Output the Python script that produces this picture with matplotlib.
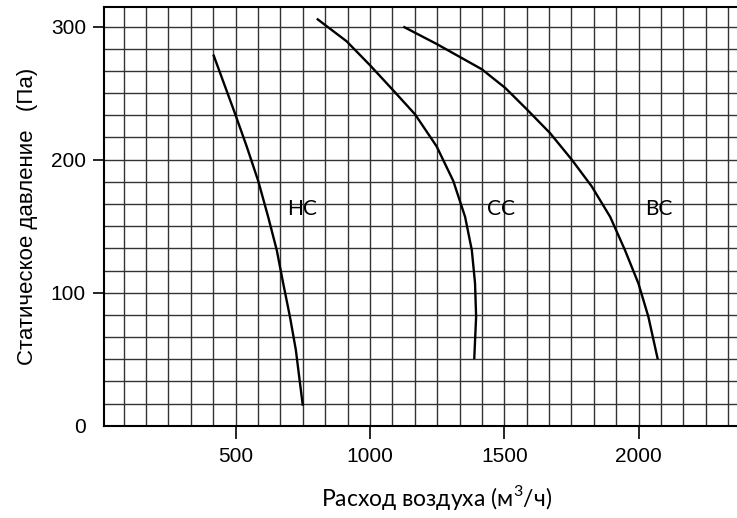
import numpy as np
import matplotlib
matplotlib.use("Agg")
import matplotlib.pyplot as plt

plt.rcParams["mathtext.fontset"] = "custom"
plt.rcParams["mathtext.rm"] = "Lato"

# flow (m3/h) vs static pressure (Pa)
hc_flow = [417, 497, 541, 584, 621, 653, 677, 702, 724, 750]
hc_pres = [279, 235, 210, 184, 157, 132, 107, 82, 57, 15]

cc_flow = [802, 913, 1000, 1087, 1168, 1248, 1310, 1354, 1379, 1391, 1395, 1388]
cc_pres = [306, 289, 271, 252, 234, 210, 184, 157, 132, 107, 82, 50]

bc_flow = [1124, 1248, 1416, 1503, 1583, 1670, 1751, 1825, 1894, 1949, 1999,
           2036, 2071]
bc_pres = [300, 287, 268, 254, 238, 220, 200, 180, 157, 132, 107, 82, 50]

labels = ["НС", "СС", "ВС"]
label_pos = [(749, 163), (1488, 163), (2076, 163)]

xticks = [500, 1000, 1500, 2000]
yticks = [0, 100, 200, 300]

fig = plt.figure(figsize=(7.37, 5.18), dpi=100)
ax = fig.add_axes([104 / 737, 92.3 / 518, 1 - 104 / 737, 419 / 518])

ax.set_xlim(10, 2366)
ax.set_ylim(0, 315)

# fine grid
for gx in np.arange(1, 29) * 500 / 6:
    ax.axvline(gx, color="#333333", lw=1.0, zorder=1)
for gy in np.arange(1, 19) * 100 / 6:
    ax.axhline(gy, color="#333333", lw=1.0, zorder=1)

for fx, py in [(hc_flow, hc_pres), (cc_flow, cc_pres), (bc_flow, bc_pres)]:
    ax.plot(fx, py, color="black", lw=1.7, zorder=3, solid_capstyle="butt",
            solid_joinstyle="round")

for txt, (lx, ly) in zip(labels, label_pos):
    ax.text(lx, ly, txt, fontsize=15, family="Lato", ha="center", va="center",
            zorder=4)

ax.spines["right"].set_visible(False)
for s in ["left", "bottom", "top"]:
    ax.spines[s].set_linewidth(1.5)

ax.set_xticks(xticks)
ax.set_yticks(yticks)
ax.tick_params(axis="x", direction="out", length=9, width=1.2, pad=6,
               labelsize=15)
ax.tick_params(axis="y", direction="out", length=8, width=1.2, pad=5,
               labelsize=15)
ax.yaxis.get_major_ticks()[0].tick1line.set_visible(False)
for lab in ax.get_xticklabels() + ax.get_yticklabels():
    lab.set_family("Liberation Sans")

ax.set_ylabel("Статическое давление   (Па)", fontsize=16,
              family="Liberation Sans", labelpad=9)
fig.text(436.7 / 737, 21 / 518, "Расход воздуха (м$^3$/ч)", fontsize=16.5,
         family="Lato", ha="center", va="center")

fig.savefig("out.png", dpi=100)
